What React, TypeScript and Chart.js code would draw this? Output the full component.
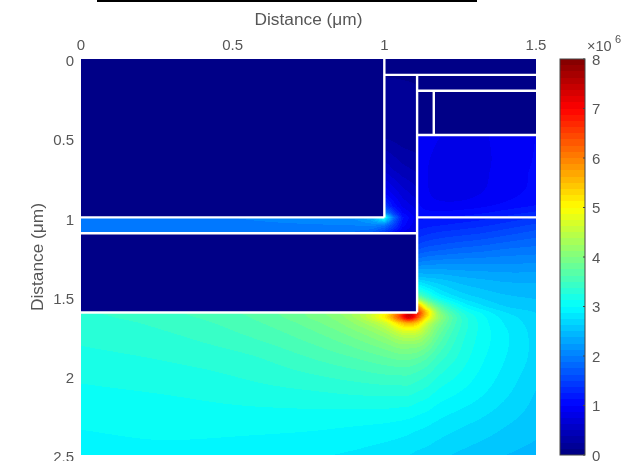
import React, { useEffect, useRef } from "react";
import { Chart, registerables } from "chart.js";

Chart.register(...registerables);

// Region A: the slot and the vertical channel (values in 1e6)
const slotXs = [0, 0.5, 0.9, 0.96, 1.0, 1.03, 1.06, 1.11];
const slotYs = [0.1, 0.5, 0.7, 0.85, 0.93, 0.97, 1.0, 1.05, 1.1];
const slotField = [
  [0, 0, 0, 0, 0.12, 0.12, 0.12, 0.12],
  [0, 0, 0, 0, 0.25, 0.22, 0.18, 0.15],
  [0, 0, 0, 0, 0.6, 0.5, 0.42, 0.35],
  [0, 0, 0, 0, 1.0, 0.85, 0.7, 0.55],
  [0, 0, 0, 0, 1.5, 1.1, 0.85, 0.7],
  [0, 0, 0, 0, 2.1, 1.45, 1.0, 0.75],
  [1.95, 2.0, 2.15, 2.4, 3.2, 1.9, 1.15, 0.8],
  [1.95, 1.95, 2.0, 2.05, 1.9, 1.5, 1.05, 0.75],
  [1.9, 1.9, 1.85, 1.7, 1.4, 1.1, 0.85, 0.7],
];

// Region B: everything right of and below the device body
const bodyXs = [0, 0.3, 0.55, 0.75, 0.9, 1.0, 1.05, 1.08, 1.11, 1.14, 1.18, 1.25, 1.32, 1.4, 1.5];
const bodyYs = [0.48, 0.7, 0.9, 1.0, 1.1, 1.2, 1.3, 1.4, 1.5, 1.56, 1.6, 1.63, 1.67, 1.75, 1.9, 2.1, 2.3, 2.5];
const bodyField = [
  [0.95, 0.95, 0.95, 0.95, 0.95, 0.95, 0.95, 0.95, 0.95, 0.92, 0.88, 0.85, 0.86, 0.92, 1.0],
  [0.92, 0.92, 0.92, 0.92, 0.92, 0.92, 0.92, 0.92, 0.92, 0.88, 0.84, 0.83, 0.85, 0.93, 1.02],
  [1.0, 1.0, 1.0, 1.0, 1.0, 1.0, 1.0, 1.0, 1.0, 0.92, 0.88, 0.88, 0.92, 1.0, 1.08],
  [1.1, 1.1, 1.1, 1.1, 1.1, 1.1, 1.1, 1.1, 1.1, 1.1, 1.1, 1.15, 1.2, 1.28, 1.38],
  [1.3, 1.3, 1.3, 1.3, 1.3, 1.3, 1.3, 1.3, 1.3, 1.35, 1.4, 1.45, 1.5, 1.58, 1.68],
  [1.62, 1.62, 1.62, 1.62, 1.62, 1.62, 1.62, 1.62, 1.62, 1.68, 1.72, 1.78, 1.82, 1.88, 1.92],
  [2.1, 2.1, 2.1, 2.1, 2.1, 2.1, 2.1, 2.1, 2.1, 2.12, 2.14, 2.14, 2.14, 2.14, 2.15],
  [2.7, 2.7, 2.7, 2.7, 2.7, 2.7, 2.7, 2.7, 2.7, 2.62, 2.55, 2.45, 2.4, 2.36, 2.35],
  [3.3, 3.4, 3.5, 3.7, 3.9, 3.9, 3.9, 3.9, 3.8, 3.4, 3.0, 2.72, 2.6, 2.52, 2.48],
  [3.35, 3.48, 3.65, 3.9, 4.3, 5.0, 6.0, 6.8, 5.8, 4.6, 3.7, 3.05, 2.78, 2.62, 2.55],
  [3.35, 3.48, 3.65, 3.9, 4.3, 5.0, 6.2, 7.2, 6.6, 5.4, 4.1, 3.3, 2.98, 2.75, 2.62],
  [3.33, 3.46, 3.62, 3.88, 4.25, 5.1, 6.4, 7.3, 6.4, 5.2, 4.2, 3.4, 3.05, 2.82, 2.66],
  [3.3, 3.42, 3.58, 3.8, 4.12, 4.6, 5.3, 5.6, 5.3, 4.6, 4.0, 3.4, 3.08, 2.86, 2.68],
  [3.28, 3.36, 3.5, 3.68, 3.9, 4.15, 4.4, 4.45, 4.4, 4.15, 3.75, 3.32, 3.08, 2.9, 2.7],
  [3.2, 3.26, 3.34, 3.48, 3.6, 3.7, 3.75, 3.75, 3.7, 3.6, 3.42, 3.2, 3.02, 2.87, 2.7],
  [3.1, 3.14, 3.2, 3.24, 3.28, 3.3, 3.3, 3.3, 3.25, 3.2, 3.1, 3.0, 2.9, 2.78, 2.62],
  [3.01, 3.03, 3.04, 3.04, 3.02, 3.0, 2.98, 2.96, 2.93, 2.9, 2.85, 2.78, 2.72, 2.64, 2.55],
  [2.98, 2.98, 2.95, 2.9, 2.85, 2.8, 2.77, 2.75, 2.72, 2.7, 2.66, 2.6, 2.55, 2.5, 2.45],
];

// Rectangles [x0, x1, y0, y1] that hold no field
const emptyBlocks = [
  [0, 1.0, 0, 1.0],
  [0, 1.108, 1.1, 1.6],
  [1.0, 1.5, 0, 0.1],
  [1.108, 1.5, 0.1, 0.48],
];
const slotRegions = [
  [0, 1.108, 1.0, 1.1],
  [1.0, 1.108, 0.1, 1.1],
];
// White structure outlines [x0, y0, x1, y1]
const wallSegments = [
  [1.0, 0, 1.0, 1.0],
  [0, 1.0, 1.0, 1.0],
  [0, 1.1, 1.108, 1.1],
  [1.108, 0.1, 1.108, 1.6],
  [0, 1.6, 1.108, 1.6],
  [1.0, 0.1, 1.5, 0.1],
  [1.108, 0.2, 1.5, 0.2],
  [1.108, 0.48, 1.5, 0.48],
  [1.163, 0.2, 1.163, 0.48],
  [1.108, 1.0, 1.5, 1.0],
];

const xTicks = [0, 0.5, 1, 1.5];
const yTicks = [0, 0.5, 1, 1.5, 2, 2.5];
const barTicks = [0, 1, 2, 3, 4, 5, 6, 7, 8];
const barMax = 8;
const axisTitle = "Distance (μm)";
const barLevels = 64;

const TEXT = "#565656";
const FONT = "'Liberation Sans', Arial, sans-serif";

function jet(level: number): [number, number, number] {
  const t = (level + 0.5) / barLevels;
  const ramp = (c: number) => Math.max(0, Math.min(1, 1.5 - Math.abs(4 * t - c)));
  return [ramp(3) * 255, ramp(2) * 255, ramp(1) * 255];
}

function bracket(arr: number[], v: number): [number, number] {
  let i = 0;
  while (i < arr.length - 2 && v > arr[i + 1]) i++;
  const f = (v - arr[i]) / (arr[i + 1] - arr[i]);
  return [i, Math.max(0, Math.min(1, f))];
}

function sampleLinear(xs: number[], ys: number[], table: number[][], x: number, y: number) {
  const [i, fx] = bracket(xs, x);
  const [j, fy] = bracket(ys, y);
  const a = table[j][i] * (1 - fx) + table[j][i + 1] * fx;
  const b = table[j + 1][i] * (1 - fx) + table[j + 1][i + 1] * fx;
  return a * (1 - fy) + b * fy;
}

function hermite(xs: number[], vals: number[], i: number, f: number) {
  const n = xs.length;
  const h = xs[i + 1] - xs[i];
  const slope = (k: number) => {
    const lo = Math.max(0, k - 1);
    const hi = Math.min(n - 1, k + 1);
    return (vals[hi] - vals[lo]) / (xs[hi] - xs[lo]);
  };
  const f2 = f * f;
  const f3 = f2 * f;
  return (
    (2 * f3 - 3 * f2 + 1) * vals[i] +
    (f3 - 2 * f2 + f) * h * slope(i) +
    (-2 * f3 + 3 * f2) * vals[i + 1] +
    (f3 - f2) * h * slope(i + 1)
  );
}

function sampleSmooth(xs: number[], ys: number[], table: number[][], x: number, y: number) {
  const [i, fx] = bracket(xs, x);
  const [j, fy] = bracket(ys, y);
  const column = table.map((row) => hermite(xs, row, i, fx));
  return hermite(ys, column, j, fy);
}

const inside = (r: number[], x: number, y: number) => x >= r[0] && x <= r[1] && y >= r[2] && y <= r[3];

const heatPlugin = {
  id: "heatField",
  beforeDatasetsDraw(chart: any) {
    const { ctx, chartArea: a, scales } = chart;
    const w = Math.round(a.right - a.left);
    const h = Math.round(a.bottom - a.top);
    const off = document.createElement("canvas");
    off.width = w;
    off.height = h;
    const octx = off.getContext("2d")!;
    const img = octx.createImageData(w, h);
    for (let py = 0; py < h; py++) {
      const y = scales.y.getValueForPixel(a.top + py + 0.5);
      for (let px = 0; px < w; px++) {
        const x = scales.x.getValueForPixel(a.left + px + 0.5);
        let v: number;
        if (emptyBlocks.some((r) => inside(r, x, y))) v = 0;
        else if (slotRegions.some((r) => inside(r, x, y))) v = sampleLinear(slotXs, slotYs, slotField, x, y);
        else v = sampleSmooth(bodyXs, bodyYs, bodyField, x, y);
        const level = Math.max(0, Math.min(barLevels - 1, Math.floor((v / barMax) * barLevels)));
        const c = jet(level);
        const k = (py * w + px) * 4;
        img.data[k] = c[0];
        img.data[k + 1] = c[1];
        img.data[k + 2] = c[2];
        img.data[k + 3] = 255;
      }
    }
    octx.putImageData(img, 0, 0);
    ctx.drawImage(off, a.left, a.top);
  },
};

const barPlugin = {
  id: "barDecor",
  afterDraw(chart: any) {
    const { ctx, chartArea: a, scales } = chart;
    ctx.save();
    ctx.strokeStyle = "#444";
    ctx.lineWidth = 1;
    ctx.strokeRect(a.left, a.top, a.right - a.left, a.bottom - a.top);
    for (const t of barTicks) {
      const p = scales.y.getPixelForValue(t);
      ctx.beginPath();
      ctx.moveTo(a.right - 2, p);
      ctx.lineTo(a.right, p);
      ctx.stroke();
    }
    ctx.fillStyle = TEXT;
    ctx.textBaseline = "middle";
    ctx.font = `14.5px ${FONT}`;
    ctx.fillText("×10", a.right + 2, 47);
    ctx.font = `11px ${FONT}`;
    ctx.fillText("6", a.right + 30, 40);
    ctx.restore();
  },
};

const flushFit = (s: any) => {
  s.paddingTop = 0;
  s.paddingBottom = 0;
  s.paddingLeft = 0;
  s.paddingRight = 0;
};
const plainLabel = (v: any) => String(v);

export default function App() {
  const mainRef = useRef<HTMLCanvasElement>(null);
  const barRef = useRef<HTMLCanvasElement>(null);

  useEffect(() => {
    const tickFont = { family: FONT, size: 15 };
    const titleFont = { family: FONT, size: 17.3 };
    const main = new Chart(mainRef.current!, {
      type: "scatter",
      data: {
        datasets: wallSegments.map((s) => ({
          data: [
            { x: s[0], y: s[1] },
            { x: s[2], y: s[3] },
          ],
          showLine: true,
          borderColor: "#ffffff",
          borderWidth: 2.4,
          pointRadius: 0,
          clip: false,
        })),
      },
      options: {
        animation: false,
        responsive: false,
        events: [],
        layout: { padding: { top: 0, left: 0, right: 97, bottom: 6 } },
        plugins: { legend: { display: false }, tooltip: { enabled: false } },
        scales: {
          x: {
            type: "linear",
            position: "top",
            min: 0,
            max: 1.5,
            afterFit: (s: any) => {
              s.height = 59;
              flushFit(s);
            },
            afterBuildTicks: (s: any) => {
              s.ticks = xTicks.map((value) => ({ value }));
            },
            grid: { display: false, drawTicks: false },
            border: { display: false },
            ticks: { color: TEXT, font: tickFont, padding: 4, maxRotation: 0, autoSkip: false, callback: plainLabel },
            title: {
              display: true,
              text: axisTitle,
              color: TEXT,
              font: titleFont,
              padding: { top: 10, bottom: 0 },
            },
          },
          y: {
            type: "linear",
            reverse: true,
            min: 0,
            max: 2.5,
            afterFit: (s: any) => {
              s.width = 81;
              flushFit(s);
            },
            afterBuildTicks: (s: any) => {
              s.ticks = yTicks.map((value) => ({ value }));
            },
            grid: { display: false, drawTicks: false },
            border: { display: false },
            ticks: { color: TEXT, font: tickFont, padding: 7, labelOffset: 3, autoSkip: false, callback: plainLabel },
            title: {
              display: true,
              text: axisTitle,
              color: TEXT,
              font: titleFont,
              padding: { top: 28, bottom: 0 },
            },
          },
        },
      },
      plugins: [heatPlugin],
    } as any);

    const bar = new Chart(barRef.current!, {
      type: "bar",
      data: {
        labels: [""],
        datasets: [
          {
            data: [barMax],
            barPercentage: 1,
            categoryPercentage: 1,
            backgroundColor: (c: any) => {
              const area = c.chart.chartArea;
              if (!area) return "#000";
              const g = c.chart.ctx.createLinearGradient(0, area.bottom, 0, area.top);
              for (let i = 0; i < barLevels; i++) {
                const [r, gg, b] = jet(i);
                const col = `rgb(${r},${gg},${b})`;
                g.addColorStop(i / barLevels, col);
                g.addColorStop((i + 1) / barLevels, col);
              }
              return g;
            },
          },
        ],
      },
      options: {
        animation: false,
        responsive: false,
        events: [],
        layout: { padding: { top: 59, left: 20, right: 0, bottom: 6 } },
        plugins: { legend: { display: false }, tooltip: { enabled: false } },
        scales: {
          x: { display: false },
          y: {
            position: "right",
            min: 0,
            max: barMax,
            afterFit: (s: any) => {
              s.width = 48;
              flushFit(s);
            },
            afterBuildTicks: (s: any) => {
              s.ticks = barTicks.map((value) => ({ value }));
            },
            grid: { display: false, drawTicks: false },
            border: { display: false },
            ticks: { color: TEXT, font: tickFont, padding: 7, labelOffset: 1.5, autoSkip: false, callback: plainLabel },
          },
        },
      },
      plugins: [barPlugin],
    } as any);

    return () => {
      main.destroy();
      bar.destroy();
    };
  }, []);

  const soften = "blur(0.5px)";
  return (
    <div style={{ position: "absolute", left: 0, top: 0, width: 633, height: 461, background: "#fff", overflow: "hidden" }}>
      <div style={{ position: "absolute", left: 97, top: 0, width: 380, height: 1.5, background: "#000" }} />
      <canvas ref={mainRef} width={633} height={461} style={{ position: "absolute", left: 0, top: 0, filter: soften }} />
      <canvas ref={barRef} width={93} height={461} style={{ position: "absolute", left: 540, top: 0, filter: soften }} />
    </div>
  );
}
